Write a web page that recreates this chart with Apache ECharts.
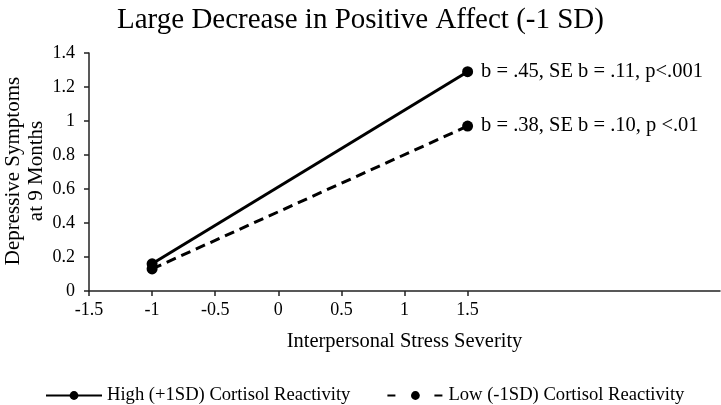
<!DOCTYPE html>
<html>
<head>
<meta charset="utf-8">
<script src="https://cdn.jsdelivr.net/npm/echarts@6/dist/echarts.min.js"></script>
<style>html,body{margin:0;padding:0;background:#fff}#c{width:721px;height:405px}</style>
</head>
<body>
<div id="c"></div>
<script>
var titleText = 'Large Decrease in Positive Affect (-1 SD)';
var xValues = [-1, 1.5];
var highValues = [0.16, 1.29];
var lowValues = [0.13, 0.97];
var seriesNames = ['High (+1SD) Cortisol Reactivity', 'Low (-1SD) Cortisol Reactivity'];
var annotations = ['b = .45, SE b = .11, p<.001', 'b = .38, SE b = .10, p <.01'];
var xTickLabels = [-1.5, -1, -0.5, 0, 0.5, 1, 1.5];
var yTickLabels = [0, 0.2, 0.4, 0.6, 0.8, 1, 1.2, 1.4];
var xAxisName = 'Interpersonal Stress Severity';
var yAxisName = 'Depressive Symptoms\nat 9 Months';

var FONT = '"Liberation Serif", "Times New Roman", serif';
var chart = echarts.init(document.getElementById('c'));

function makeData(vals, ann) {
  return xValues.map(function (x, i) {
    var d = { value: [x, vals[i]] };
    if (i === xValues.length - 1) {
      d.label = { show: true, position: 'right', distance: 8, formatter: ann,
        fontFamily: FONT, fontSize: 20.5, color: '#000' };
    }
    return d;
  });
}

chart.setOption({
  animation: false,
  title: {
    text: titleText, left: 'center', top: 1,
    textStyle: { fontFamily: FONT, fontSize: 29, fontWeight: 'normal', color: '#000' }
  },
  grid: { left: 89, right: 1, top: 53, bottom: 114, containLabel: false },
  legend: {
    top: 381, left: 40, itemWidth: 56, itemHeight: 11, itemGap: 36,
    textStyle: { fontFamily: FONT, fontSize: 18.6, color: '#000' },
    data: [
      { name: seriesNames[0] },
      { name: seriesNames[1], lineStyle: { type: [8, 39] } }
    ]
  },
  xAxis: {
    type: 'value', min: -1.5, max: 3.5, interval: 0.5,
    splitLine: { show: false },
    axisLine: { onZero: false, lineStyle: { color: '#222', width: 1.5 } },
    axisTick: { show: true, length: 5, customValues: xTickLabels, lineStyle: { color: '#222', width: 1.5 } },
    axisLabel: { customValues: xTickLabels, margin: 10, fontFamily: FONT, fontSize: 18, color: '#000' },
    name: xAxisName, nameLocation: 'middle', nameGap: 40,
    nameTextStyle: { fontFamily: FONT, fontSize: 20.5, color: '#000' }
  },
  yAxis: {
    type: 'value', min: 0, max: 1.4, interval: 0.2,
    splitLine: { show: false },
    axisLine: { show: true, onZero: false, lineStyle: { color: '#222', width: 1.5 } },
    axisTick: { show: true, length: 5, lineStyle: { color: '#222', width: 1.5 } },
    axisLabel: { customValues: yTickLabels, margin: 14, fontFamily: FONT, fontSize: 18, color: '#000' }
  },
  graphic: [{
    type: 'text', x: 25, y: 171, rotation: Math.PI / 2,
    style: { text: yAxisName, fill: '#000', font: '21px ' + FONT,
      align: 'center', verticalAlign: 'middle', lineHeight: 23 }
  }],
  series: [{
    name: seriesNames[0], type: 'line', data: makeData(highValues, annotations[0]),
    symbol: 'circle', symbolSize: 11,
    lineStyle: { color: '#000', width: 3 }, itemStyle: { color: '#000' }
  }, {
    name: seriesNames[1], type: 'line', data: makeData(lowValues, annotations[1]),
    symbol: 'circle', symbolSize: 11,
    lineStyle: { color: '#000', width: 3, type: [10, 6] }, itemStyle: { color: '#000' }
  }]
});
</script>
</body>
</html>
